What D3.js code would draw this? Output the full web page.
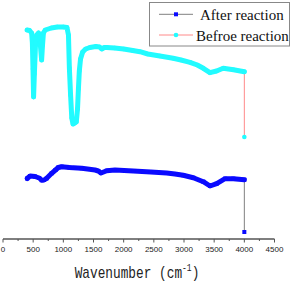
<!DOCTYPE html>
<html>
<head>
<meta charset="utf-8">
<script src="https://cdn.jsdelivr.net/npm/d3@7/dist/d3.min.js"></script>
<style>
  html, body { margin: 0; padding: 0; background: #fff; }
  svg { display: block; }
</style>
</head>
<body>
<div id="chart"></div>
<script>
// Wavenumber (cm-1) and relative transmittance (a.u.)
const afterWavenumbers = [400, 450, 530, 600, 641, 680, 724, 807, 870, 917, 973, 1100, 1305, 1400, 1525, 1580, 1624, 1719, 1856, 2160, 2450, 2713, 2850, 2988, 3154, 3320, 3431, 3542, 3680, 3818, 4000, 4000];
const afterValues      = [60.5, 63, 62.5, 61, 58.8, 59, 60.7, 65.7, 69, 71.5, 72.3, 71.5, 70.7, 70, 69, 68, 66, 68.3, 69, 68, 67, 66, 65, 63.7, 61.3, 57.3, 53, 55.3, 60.3, 60.3, 59.3, 7];

const beforeWavenumbers = [400, 440, 475, 487, 497, 507, 520, 540, 560, 590, 615, 640, 655, 670, 700, 800, 900, 1000, 1060, 1085, 1100, 1120, 1140, 1160, 1190, 1215, 1235, 1250, 1265, 1285, 1320, 1370, 1440, 1540, 1600, 1636, 1680, 1720, 1850, 2000, 2150, 2270, 2400, 2600, 2820, 2950, 3100, 3220, 3320, 3430, 3540, 3650, 3820, 4000, 4000];
const beforeValues      = [209, 208.5, 206, 196, 170, 142, 165, 196, 204, 206, 197, 179, 194, 206, 209, 211, 212, 212, 211.5, 204, 171, 144, 121, 115, 116, 117, 130, 150, 168, 180, 187, 190, 191.5, 192.5, 192, 190, 191.5, 191.5, 191, 190, 188.5, 187.3, 185, 183, 180.7, 179, 176.7, 174, 170.7, 166.3, 168, 170.7, 169.3, 167.3, 102];

const xTicks = [0, 500, 1000, 1500, 2000, 2500, 3000, 3500, 4000, 4500];
const xMinorTicks = [250, 750, 1250, 1750, 2250, 2750, 3250, 3750, 4250];
const legendLabels = ["After reaction", "Befroe reaction"];

const W = 294, H = 282;
const svg = d3.select("#chart").append("svg").attr("width", W).attr("height", H);

const x = d3.scaleLinear().domain([0, 4500]).range([3, 274.5]);
const y = d3.scaleLinear().domain([0, 220]).range([239, 19]);

const series = [
  { w: afterWavenumbers, v: afterValues, band: "#0a0aff", conn: "#808080", marker: "square" },
  { w: beforeWavenumbers, v: beforeValues, band: "#22fbff", conn: "#ff8a8a", marker: "circle" }
];

const line = d3.line().x(d => x(d[0])).y(d => y(d[1]));

series.forEach(s => {
  const pts = s.w.map((w, i) => [w, s.v[i]]);
  // thin connecting line
  svg.append("path").attr("d", line(pts)).attr("fill", "none")
    .attr("stroke", s.conn).attr("stroke-width", 1);
  // dense marker band
  svg.append("path").attr("d", line(pts.slice(0, -1))).attr("fill", "none")
    .attr("stroke", s.band).attr("stroke-width", 5)
    .attr("stroke-linejoin", "round").attr("stroke-linecap", "round");
  // markers
  if (s.marker === "circle") {
    svg.selectAll(null).data(pts).enter().append("circle")
      .attr("cx", d => x(d[0])).attr("cy", d => y(d[1])).attr("r", 2.3)
      .attr("fill", s.band);
  } else {
    svg.selectAll(null).data(pts).enter().append("rect")
      .attr("x", d => x(d[0]) - 2).attr("y", d => y(d[1]) - 2)
      .attr("width", 4).attr("height", 4).attr("fill", s.band);
  }
});

// x axis
const axisY = 239;
const ax = svg.append("g");
ax.append("line").attr("x1", x(0)).attr("x2", x(4500)).attr("y1", axisY).attr("y2", axisY)
  .attr("stroke", "#555").attr("stroke-width", 1.5);
ax.selectAll(null).data(xTicks).enter().append("line")
  .attr("x1", d => x(d)).attr("x2", d => x(d)).attr("y1", axisY).attr("y2", axisY + 3.5)
  .attr("stroke", "#555").attr("stroke-width", 1);
ax.selectAll(null).data(xMinorTicks).enter().append("line")
  .attr("x1", d => x(d)).attr("x2", d => x(d)).attr("y1", axisY).attr("y2", axisY + 2)
  .attr("stroke", "#555").attr("stroke-width", 1);
ax.selectAll(null).data(xTicks).enter().append("text")
  .attr("x", d => x(d)).attr("y", 251.5).attr("text-anchor", "middle")
  .attr("font-family", "Liberation Sans, Arial, sans-serif").attr("font-size", 8)
  .attr("fill", "#222").text(d => d);

// axis title
const title = svg.append("text")
  .attr("transform", "translate(137,278) scale(0.8,1)")
  .attr("text-anchor", "middle")
  .attr("font-family", "Liberation Mono, monospace").attr("font-size", 16)
  .attr("fill", "#222");
title.append("tspan").text("Wavenumber (cm");
title.append("tspan").attr("font-size", 10).attr("dy", -7).text("-1");
title.append("tspan").attr("dy", 7).text(")");

// legend
const lg = svg.append("g");
lg.append("rect").attr("x", 149.5).attr("y", 2.5).attr("width", 140).attr("height", 43.5)
  .attr("fill", "#fff").attr("stroke", "#888").attr("stroke-width", 1);
const rows = [
  { y: 14.3, label: legendLabels[0], s: series[0], tx: 200 },
  { y: 35, label: legendLabels[1], s: series[1], tx: 196 }
];
rows.forEach(r => {
  lg.append("line").attr("x1", 159).attr("x2", 193).attr("y1", r.y).attr("y2", r.y)
    .attr("stroke", r.s.conn).attr("stroke-width", 1);
  if (r.s.marker === "circle") {
    lg.append("circle").attr("cx", 176).attr("cy", r.y).attr("r", 2.3).attr("fill", r.s.band);
  } else {
    lg.append("rect").attr("x", 174).attr("y", r.y - 2).attr("width", 4).attr("height", 4).attr("fill", r.s.band);
  }
  lg.append("text").attr("x", r.tx).attr("y", r.y + 5.5)
    .attr("font-family", "Liberation Serif, Times New Roman, serif").attr("font-size", 15)
    .attr("fill", "#111").text(r.label);
});
</script>
</body>
</html>
